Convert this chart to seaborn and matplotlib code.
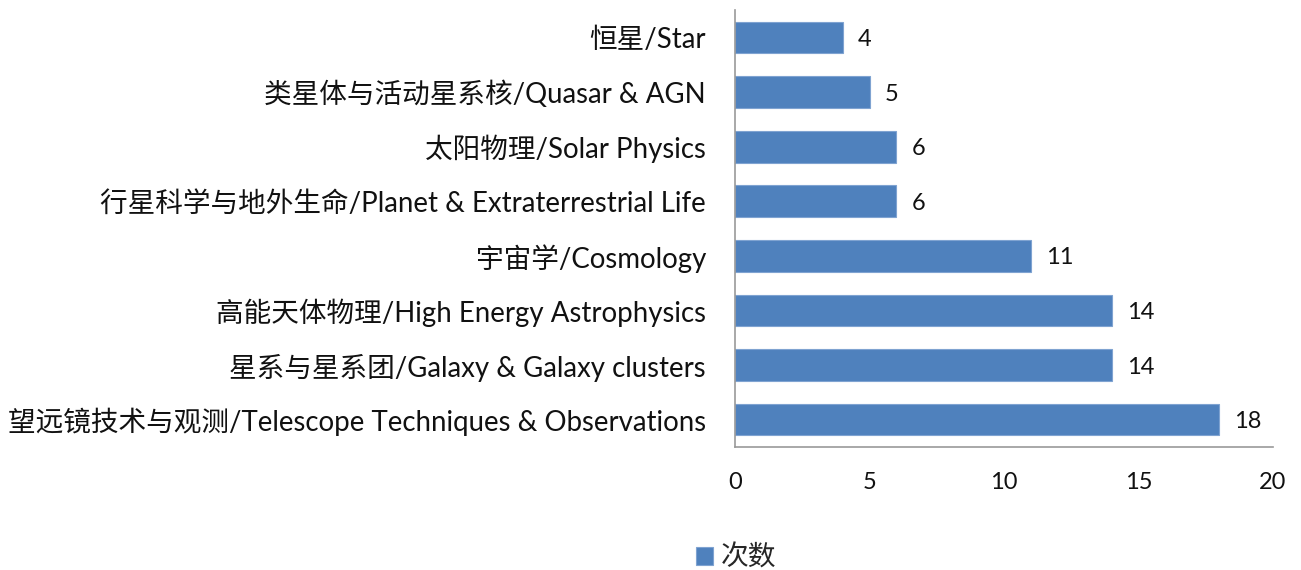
import matplotlib
matplotlib.use("Agg")
import matplotlib.pyplot as plt
import seaborn as sns

# data, top to bottom as in the chart
categories = [
    "恒星/Star",
    "类星体与活动星系核/Quasar & AGN",
    "太阳物理/Solar Physics",
    "行星科学与地外生命/Planet & Extraterrestrial Life",
    "宇宙学/Cosmology",
    "高能天体物理/High Energy Astrophysics",
    "星系与星系团/Galaxy & Galaxy clusters",
    "望远镜技术与观测/Telescope Techniques & Observations",
]
counts = [4, 5, 6, 6, 11, 14, 14, 18]
xticks = [0, 5, 10, 15, 20]
series_name = "次数"

sns.set_theme(style="white")
plt.rcParams['font.family'] = ['Lato', 'Noto Sans CJK SC', 'DejaVu Sans']

bar_color = "#4F81BD"

fig = plt.figure(figsize=(13.01, 5.70), dpi=100)
ax = fig.add_axes([0.565, 0.216, 0.4135, 0.766])

sns.barplot(x=counts, y=categories, orient="h", color=bar_color,
            saturation=1, width=0.58, edgecolor="#7FA3D1", linewidth=0.8,
            label=series_name, ax=ax)

for c in ax.containers:
    texts = ax.bar_label(c, padding=11, fontsize=17, color="#111111")
    for t in texts:
        t.set_va("center_baseline")

ax.set_xlim(0, 20)
ax.set_ylim(7.5, -0.5)
ax.set_xticks(xticks)
ax.set_xlabel("")
ax.set_ylabel("")

for s in ["top", "right"]:
    ax.spines[s].set_visible(False)
for s in ["left", "bottom"]:
    ax.spines[s].set_color("#999999")
    ax.spines[s].set_linewidth(1.2)

ax.tick_params(axis="y", length=0, pad=21, labelsize=19.9, labelcolor="#111111")
ax.tick_params(axis="x", length=0, pad=18, labelsize=17, labelcolor="#111111")

ax.legend(loc="center", bbox_to_anchor=(0.566, 0.022), bbox_transform=fig.transFigure,
          frameon=False, fontsize=20, handlelength=0.6, handleheight=0.6,
          handletextpad=0.3)

fig.savefig("out.png", dpi=100)
